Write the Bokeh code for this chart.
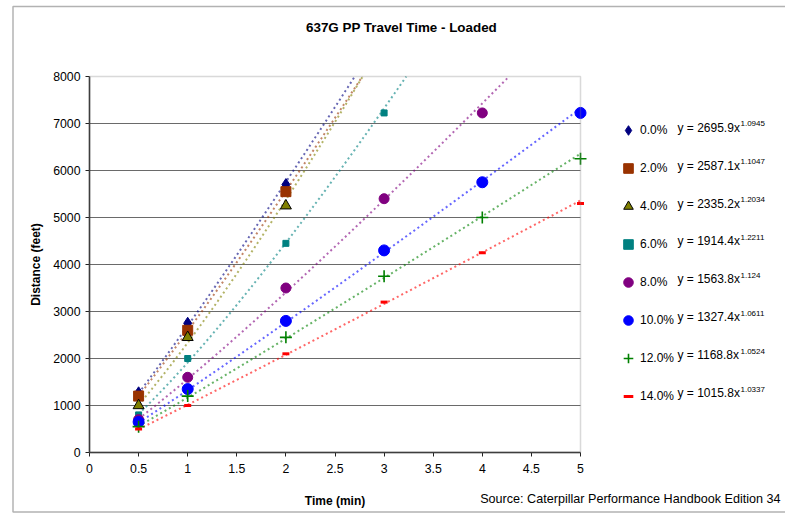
import numpy as np
from bokeh.plotting import figure
from bokeh.models import (Range1d, FixedTicker, Label, Legend, LegendItem, LinearAxis,
                          BoxAnnotation, ColumnDataSource)
from bokeh.embed import file_html
from bokeh.resources import INLINE

# ---------------- data ----------------
grades = ["0.0%", "2.0%", "4.0%", "6.0%", "8.0%", "10.0%", "12.0%", "14.0%"]

time_0 = [0.5, 1, 2]
dist_0 = [1270, 2750, 5700]
time_2 = [0.5, 1, 2]
dist_2 = [1200, 2600, 5550]
time_4 = [0.5, 1, 2]
dist_4 = [1000, 2450, 5250]
time_6 = [0.5, 1, 2, 3]
dist_6 = [800, 2000, 4450, 7225]
time_8 = [0.5, 1, 2, 3, 4]
dist_8 = [700, 1600, 3500, 5400, 7225]
time_10 = [0.5, 1, 2, 3, 4, 5]
dist_10 = [650, 1350, 2800, 4300, 5750, 7225]
time_12 = [0.5, 1, 2, 3, 4, 5]
dist_12 = [550, 1200, 2450, 3750, 5000, 6250]
time_14 = [0.5, 1, 2, 3, 4, 5]
dist_14 = [500, 1000, 2100, 3200, 4250, 5300]

coef_a = [2695.9, 2587.1, 2335.2, 1914.4, 1563.8, 1327.4, 1168.8, 1015.8]
coef_b = [1.0945, 1.1047, 1.2034, 1.2211, 1.124, 1.0611, 1.0524, 1.0337]
coef_a_text = ["2695.9", "2587.1", "2335.2", "1914.4", "1563.8", "1327.4", "1168.8", "1015.8"]
coef_b_text = ["1.0945", "1.1047", "1.2034", "1.2211", "1.124", "1.0611", "1.0524", "1.0337"]

x_ticks = [0, 0.5, 1, 1.5, 2, 2.5, 3, 3.5, 4, 4.5, 5]
x_tick_labels = ["0", "0.5", "1", "1.5", "2", "2.5", "3", "3.5", "4", "4.5", "5"]
y_ticks = [0, 1000, 2000, 3000, 4000, 5000, 6000, 7000, 8000]
y_tick_labels = ["0", "1000", "2000", "3000", "4000", "5000", "6000", "7000", "8000"]

series_t = [time_0, time_2, time_4, time_6, time_8, time_10, time_12, time_14]
series_d = [dist_0, dist_2, dist_4, dist_6, dist_8, dist_10, dist_12, dist_14]

X_MIN, X_MAX = 0, 5
Y_MIN, Y_MAX = 0, 8000

# ---------------- styles ----------------
colors = ["#000080", "#993300", "#808000", "#008080", "#800080", "#0000FF", "#008000", "#FF0000"]
markers = ["diamond", "square", "triangle", "square", "circle", "circle", "cross", "dash"]
sizes = [12, 10, 11, 6, 10, 11, 12, 7]
line_cols = ["#000080", "#993300", "#000000", "#008080", "#800080", "#0000FF", "#008000", "#FF0000"]
line_ws = [1, 1, 1, 1, 1, 1, 1.6, 3]

FONT = "Liberation Sans"
W, H = 785, 517
FL, FR, FT, FB = 89, 580, 76, 452   # plot-area edges in canvas px

# the frame covers the whole canvas; the plot area is set by the range mapping
x_per_px = (X_MAX - X_MIN) / (FR - FL)
y_per_px = (Y_MAX - Y_MIN) / (FB - FT)
x_start = X_MIN - FL * x_per_px
x_end = X_MIN + (W - FL) * x_per_px
y_start = Y_MIN - (H - FB) * y_per_px
y_end = Y_MIN + FB * y_per_px


def fx(cx):
    return cx


def fy(cy):
    return H - cy


p = figure(width=W, height=H, output_backend="svg", toolbar_location=None,
           x_range=Range1d(x_start, x_end), y_range=Range1d(y_start, y_end),
           x_axis_location=None, y_axis_location=None,
           min_border_left=0, min_border_right=0, min_border_top=0, min_border_bottom=0)
p.background_fill_color = "white"
p.border_fill_color = "white"
p.outline_line_color = None
p.xgrid.visible = False
p.ygrid.visible = False

xaxis = LinearAxis(fixed_location=Y_MIN, ticker=FixedTicker(ticks=x_ticks),
                   major_label_overrides={t: l for t, l in zip(x_ticks, x_tick_labels)},
                   bounds=(X_MIN, X_MAX), axis_label="Time (min)")
yaxis = LinearAxis(fixed_location=X_MIN, ticker=FixedTicker(ticks=y_ticks),
                   major_label_overrides={t: l for t, l in zip(y_ticks, y_tick_labels)},
                   bounds=(Y_MIN, Y_MAX), axis_label="Distance (feet)")
for ax in (xaxis, yaxis):
    ax.minor_tick_line_color = None
    ax.major_tick_in = 0
    ax.major_tick_out = 4
    ax.axis_line_color = "#222222"
    ax.axis_line_width = 1.5
    ax.major_tick_line_color = "#222222"
    ax.major_label_text_font = FONT
    ax.major_label_text_font_size = "12.3px"
    ax.major_label_text_color = "black"
    ax.axis_label_text_font = FONT
    ax.axis_label_text_font_size = "12px"
    ax.axis_label_text_font_style = "bold"
    ax.axis_label_text_color = "black"
xaxis.major_label_standoff = 7
xaxis.axis_label_standoff = 18
yaxis.major_label_standoff = 5
yaxis.axis_label_standoff = 7

# horizontal gridlines, limited to the plot area
grid_y = y_ticks[1:-1]
p.segment(x0=[X_MIN] * len(grid_y), x1=[X_MAX] * len(grid_y), y0=grid_y, y1=grid_y,
          line_color="#6a6a6a", line_width=1)
# plot-area border (top and right in grey)
p.add_layout(BoxAnnotation(left=X_MIN, right=X_MAX, bottom=Y_MIN, top=Y_MAX,
                           fill_alpha=0, line_color="#808080", line_width=1.5))
p.add_layout(xaxis, "below")
p.add_layout(yaxis, "left")

# trendlines (power fits given by the chart's equations), cut at the plot area
for i in range(len(grades)):
    x_stop = min(X_MAX, (Y_MAX / coef_a[i]) ** (1 / coef_b[i]))
    xs_fit = np.linspace(0.5, x_stop, 120)
    p.line(xs_fit, coef_a[i] * xs_fit ** coef_b[i], line_color=colors[i],
           line_alpha=0.6, line_width=2, line_dash="2 3")

# markers
items = []
for i in range(len(grades)):
    src = ColumnDataSource(dict(t=series_t[i], d=series_d[i]))
    r = p.scatter("t", "d", source=src, marker=markers[i], size=sizes[i],
                  fill_color=colors[i], line_color=line_cols[i], line_width=line_ws[i])
    items.append(LegendItem(label=grades[i], renderers=[r]))

LEG_TOP, LEG_STEP, GLYPH = 130.7, 37.9, 24
legend = Legend(items=items,
                location=(fx(628 - GLYPH / 2), fy(LEG_TOP - GLYPH / 2 + 8 * GLYPH + 7 * (LEG_STEP - GLYPH))),
                margin=0, padding=0, spacing=int(round(LEG_STEP - GLYPH)),
                glyph_width=GLYPH, glyph_height=GLYPH, label_height=GLYPH,
                label_standoff=-4, border_line_color=None, background_fill_alpha=0,
                label_text_font=FONT, label_text_font_size="12px",
                label_text_color="black")
p.add_layout(legend)

# equations next to legend
legend_cy = [LEG_TOP + k * LEG_STEP for k in range(len(grades))]
for i in range(len(grades)):
    p.add_layout(Label(x=fx(677), y=fy(legend_cy[i] - 3.5), x_units="screen", y_units="screen",
                       text="y = " + coef_a_text[i] + "x", text_font=FONT,
                       text_font_size="12px", text_baseline="middle", text_color="black"))
    p.add_layout(Label(x=fx(740), y=fy(legend_cy[i] - 7.5), x_units="screen", y_units="screen",
                       text=coef_b_text[i], text_font=FONT,
                       text_font_size="8px", text_baseline="middle", text_color="black"))

# title
p.add_layout(Label(x=fx(401), y=fy(27), x_units="screen", y_units="screen",
                   text="637G PP Travel Time - Loaded", text_font=FONT,
                   text_font_size="13.4px", text_font_style="bold",
                   text_align="center", text_baseline="middle", text_color="black"))
# source note, on the same line as the axis title
p.add_layout(Label(x=fx(780), y=fy(498), x_units="screen", y_units="screen",
                   text="Source: Caterpillar Performance Handbook Edition 34", text_font=FONT,
                   text_font_size="12.6px", text_align="right", text_baseline="middle",
                   text_color="black"))

# outer chart border
p.add_layout(BoxAnnotation(left=fx(12.5), right=fx(800), top=fy(6), bottom=fy(511.5),
                           left_units="screen", right_units="screen",
                           top_units="screen", bottom_units="screen",
                           fill_alpha=0, line_color="black", line_width=1.5))

open("out.html", "w").write(file_html(p, INLINE))
